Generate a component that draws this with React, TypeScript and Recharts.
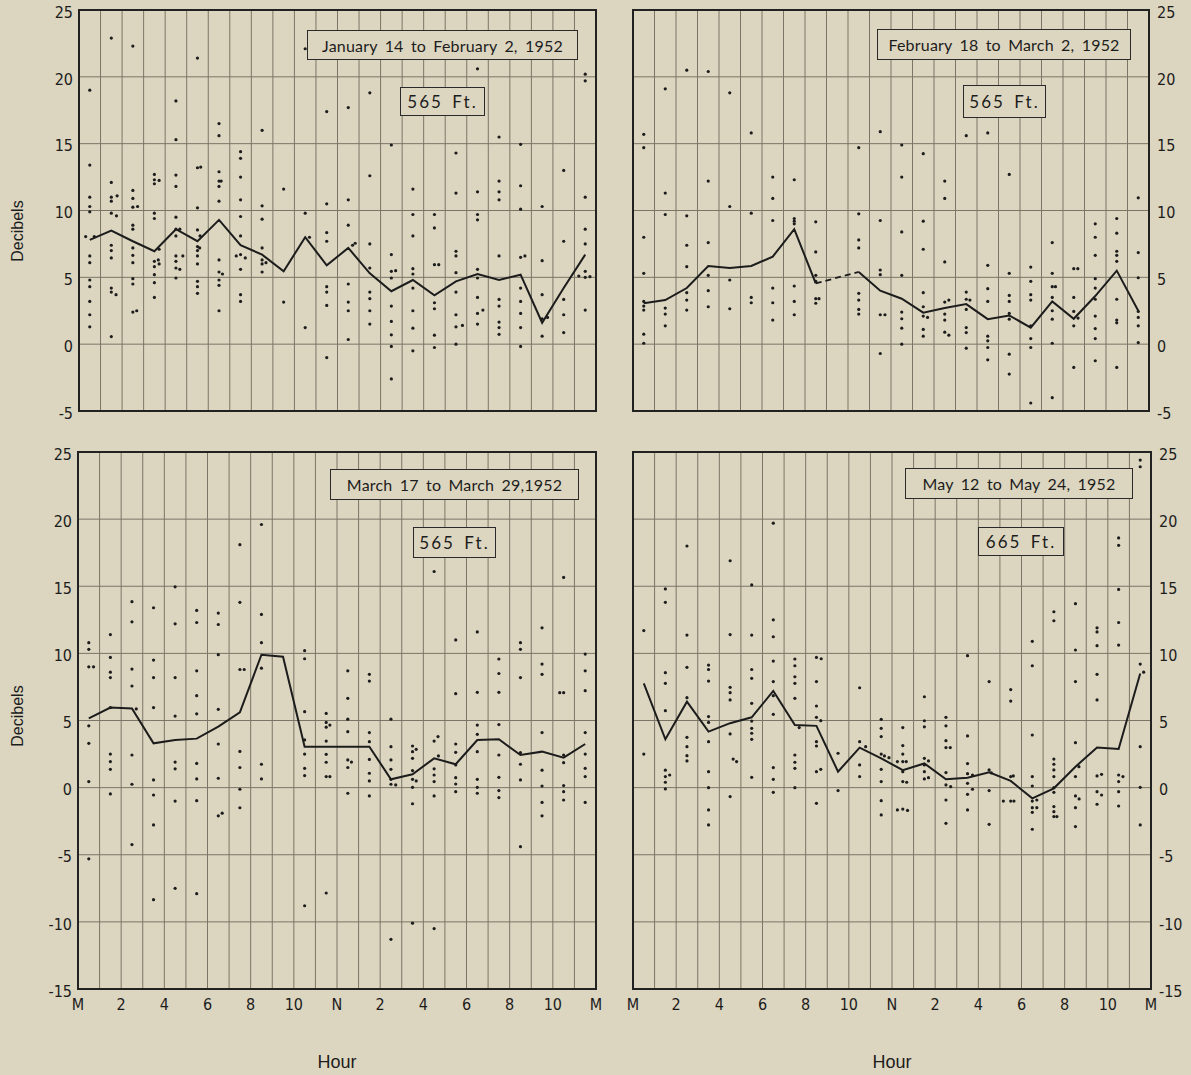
import React from 'react';
import { ComposedChart, Line, Scatter, XAxis, YAxis, CartesianGrid, ReferenceArea } from 'recharts';

// hour grid (one column per hour, readings plotted mid-column)
const hours = Array.from({ length: 25 }, (_, i) => i);
const hourLabels = ['M', '2', '4', '6', '8', '10', 'N', '2', '4', '6', '8', '10', 'M'];
const topTicks = [-5, 0, 5, 10, 15, 20, 25];
const bottomTicks = [-15, -10, -5, 0, 5, 10, 15, 20, 25];

// January 14 to February 2, 1952 — 565 ft
const janMedian = [7.8, 8.5, 7.7, 6.95, 8.6, 7.7, 9.3, 7.4, 6.7, 5.45, 8.0, 5.9, 7.2, 5.3, 3.96, 4.8, 3.66, 4.7, 5.25, 4.8, 5.2, 1.6, 4.2, 6.7];
const janDots = [
  [19.0, 13.4, 11.0, 10.3, 9.9, 6.6, 6.1, 4.8, 4.3, 3.2, 2.2, 1.3],
  [22.9, 12.1, 11.0, 10.7, 9.8, 7.4, 7.0, 6.45, 4.2, 3.9, 0.57],
  [22.3, 11.5, 10.9, 10.25, 8.9, 8.6, 7.2, 6.65, 6.1, 4.9, 4.5, 2.4],
  [12.7, 12.3, 12.0, 9.8, 9.4, 6.2, 5.8, 5.2, 4.6, 3.5],
  [18.2, 15.3, 12.65, 11.8, 9.5, 8.6, 8.1, 6.6, 6.2, 5.7, 4.95],
  [21.4, 13.2, 10.2, 8.55, 7.3, 7.0, 6.6, 6.0, 4.7, 4.3, 3.8],
  [16.5, 15.6, 12.9, 12.2, 11.8, 10.7, 6.3, 5.4, 4.8, 4.4, 2.5],
  [14.4, 13.9, 12.5, 10.8, 9.55, 8.1, 6.7, 5.6, 3.7, 3.2],
  [16.0, 10.35, 9.35, 7.2, 6.3, 6.0, 5.4],
  [11.6, 3.15],
  [22.1, 9.8, 1.24],
  [17.4, 10.5, 8.35, 7.7, 4.3, 3.9, 2.9, -1.0],
  [17.7, 10.8, 8.9, 4.5, 3.15, 2.5, 0.35],
  [18.8, 12.6, 7.5, 5.7, 3.9, 3.4, 2.5, 1.5],
  [14.9, 6.7, 5.45, 4.95, 2.85, 1.7, 0.7, -0.17, -2.6],
  [11.6, 9.7, 8.1, 5.65, 5.25, 4.2, 2.5, 1.2, -0.5],
  [9.7, 8.7, 5.95, 3.1, 2.65, 0.67, -0.25],
  [14.3, 11.3, 6.95, 6.6, 5.35, 3.9, 2.2, 1.3, 0.0],
  [20.6, 11.4, 9.7, 9.3, 5.6, 4.95, 3.5, 2.3, 1.5],
  [15.5, 12.2, 11.4, 10.8, 6.6, 3.35, 2.85, 1.65, 1.24, 0.74],
  [14.95, 11.85, 10.1, 6.5, 4.2, 3.2, 2.3, 1.24, -0.17],
  [10.3, 6.25, 3.7, 1.9, 0.6],
  [13.0, 7.7, 3.35, 2.2, 0.87],
  [20.2, 19.7, 11.0, 8.6, 7.5, 5.45, 5.0, 2.55],
];
const janSide = [
  [0.31, 8.05], [0.71, 8.05], [1.77, 11.1], [1.74, 9.6], [1.72, 3.7], [2.72, 10.3], [2.68, 2.5],
  [3.72, 12.25], [3.72, 7.1], [3.68, 6.3], [3.72, 6.0], [4.68, 8.6], [4.82, 6.6], [4.68, 5.6],
  [5.65, 13.25], [5.62, 8.1], [5.6, 7.2], [6.6, 12.2], [6.66, 5.25], [7.3, 6.6], [7.72, 6.45],
  [8.68, 6.1], [10.7, 8.0], [12.7, 7.4], [12.82, 7.55], [14.7, 5.5], [16.7, 5.95], [17.8, 1.4],
  [18.75, 2.55], [20.7, 6.6], [21.75, 2.0], [23.2, 5.1], [23.72, 5.05],
];

// February 18 to March 2, 1952 — 565 ft (hour 9 missing, bridged by a dashed line)
const febMedian = [3.06, 3.3, 4.2, 5.85, 5.7, 5.85, 6.55, 8.6, 4.55, null, 5.4, 4.0, 3.4, 2.36, 2.7, 3.0, 1.87, 2.15, 1.24, 3.2, 1.9, 3.6, 5.5, 2.5];
const febBridge = [[8.5, 4.55], [10.5, 5.4]];
const febDots = [
  [15.7, 14.7, 8.0, 5.3, 3.2, 2.85, 2.55, 0.75, 0.07],
  [19.1, 11.3, 9.7, 2.7, 2.25, 1.37],
  [20.5, 9.6, 7.4, 5.8, 3.85, 3.3, 2.55],
  [20.4, 12.2, 7.6, 5.15, 4.0, 2.8],
  [18.8, 10.3, 4.8, 2.65],
  [15.8, 9.8, 3.5, 3.1],
  [12.5, 10.9, 9.25, 4.2, 3.1, 1.8],
  [12.3, 9.4, 9.2, 9.0, 4.35, 3.2, 2.2],
  [9.15, 6.9, 5.15, 4.7, 3.4, 3.06],
  [],
  [14.7, 9.75, 7.8, 7.2, 3.8, 3.3, 2.6, 2.25],
  [15.9, 9.25, 5.55, 5.2, 2.2, -0.7],
  [14.9, 12.5, 8.4, 5.15, 2.4, 1.9, 1.2, 0.0],
  [14.25, 9.2, 7.1, 3.85, 2.8, 2.1, 1.1, 0.6],
  [12.2, 10.9, 6.15, 3.15, 2.25, 1.8, 0.9],
  [15.6, 3.9, 3.36, 2.6, 1.24, 0.87, -0.3],
  [15.8, 5.9, 4.15, 3.2, 0.6, 0.25, -0.25, -1.17],
  [12.7, 5.3, 3.65, 3.2, 2.3, 1.87, -0.75, -2.24],
  [5.77, 4.7, 3.7, 3.3, 1.37, 0.42, -0.25, -4.4],
  [7.6, 5.3, 4.3, 3.5, 2.5, 1.87, 0.07, -4.0],
  [5.65, 3.5, 2.45, 1.37, -1.74],
  [9.0, 8.0, 6.65, 4.9, 4.2, 3.36, 2.1, 1.17, 0.42, -1.24],
  [9.4, 8.3, 6.95, 6.65, 6.2, 3.36, 1.8, 1.6, -1.74],
  [10.95, 6.85, 4.97, 2.45, 2.0, 1.37, 0.12],
];
const febSide = [
  [8.65, 3.4], [11.72, 2.2], [13.7, 2.0], [14.69, 3.3], [14.69, 0.67], [15.67, 3.3],
  [19.65, 4.3], [20.69, 5.65], [20.7, 1.95],
];

// March 17 to March 29, 1952 — 565 ft
const marMedian = [5.16, 5.96, 5.9, 3.3, 3.55, 3.65, 4.54, 5.6, 9.9, 9.75, 3.05, 3.05, 3.05, 3.05, 0.62, 1.0, 2.18, 1.74, 3.55, 3.6, 2.43, 2.68, 2.23, 3.25];
const marDots = [
  [10.8, 10.3, 9.0, 4.6, 3.3, 0.45, -5.3],
  [11.4, 9.7, 8.6, 8.2, 5.96, 2.5, 1.94, 1.36, -0.47],
  [13.85, 12.35, 8.83, 7.57, 2.43, 0.25, -4.24],
  [13.4, 9.5, 8.2, 5.96, 0.57, -0.55, -2.78, -8.35],
  [14.96, 12.2, 8.2, 5.33, 1.9, 1.4, -1.0, -7.5],
  [13.2, 12.3, 8.7, 6.85, 5.5, 1.8, 0.65, -0.97, -7.9],
  [13.0, 12.15, 9.9, 5.83, 3.25, 0.7, -2.1],
  [18.1, 13.8, 8.8, 2.7, 1.5, -0.12, -1.5],
  [19.6, 12.9, 10.8, 8.9, 1.74, 0.65],
  [],
  [10.2, 9.6, 5.66, 3.55, 2.5, 1.44, 0.9, -8.8],
  [5.53, 4.86, 4.5, 3.47, 2.48, 1.89, 0.82, -7.85],
  [8.7, 6.65, 5.1, 4.17, 2.06, 1.5, -0.42],
  [8.44, 7.94, 4.1, 3.42, 2.1, 1.07, 0.5, -0.62],
  [5.1, 3.05, 2.06, 1.36, 0.62, 0.25, -11.3],
  [3.1, 2.68, 2.18, 1.27, 0.62, 0.02, -1.2, -10.1],
  [16.1, 3.47, 1.4, 0.94, 0.45, -0.62, -10.5],
  [11.0, 7.0, 3.25, 2.63, 1.69, 0.74, 0.27, -0.3],
  [11.6, 7.1, 4.66, 3.97, 2.68, 0.62, 0.02, -0.42],
  [9.58, 8.5, 7.1, 4.7, 2.43, 0.77, -0.22, -0.74],
  [10.8, 10.3, 8.2, 2.6, 1.74, 0.57, -4.4],
  [11.9, 9.2, 8.44, 4.1, 1.3, 0.12, -1.1, -2.1],
  [15.66, 7.07, 2.43, 1.86, 0.15, -0.3, -0.92],
  [9.95, 8.7, 7.22, 4.1, 2.5, 1.44, 0.82, -1.1],
];
const marSide = [
  [0.72, 9.0], [2.7, 5.86], [6.68, -1.9], [7.7, 8.8], [11.67, 4.66], [11.67, 0.82], [12.67, 1.9],
  [14.72, 0.2], [15.67, 2.85], [15.67, 0.5], [16.68, 3.8], [16.7, 2.36], [22.32, 7.07],
];

// May 12 to May 24, 1952 — 665 ft
const mayMedian = [7.77, 3.6, 6.4, 4.17, 4.8, 5.24, 7.2, 4.66, 4.6, 1.19, 2.98, 2.18, 1.3, 1.8, 0.62, 0.74, 1.14, 0.5, -0.8, -0.05, 1.56, 2.98, 2.88, 8.5];
const mayDots = [
  [11.7, 2.5],
  [14.8, 13.8, 8.56, 7.77, 5.73, 1.3, 0.82, 0.4, -0.1],
  [18.0, 11.36, 8.96, 6.7, 3.75, 3.05, 2.38, 1.99],
  [9.13, 8.8, 7.94, 5.29, 4.86, 3.42, 1.19, 0.0, -1.66, -2.78],
  [16.9, 11.4, 7.47, 7.07, 6.53, 4.0, -0.67],
  [15.1, 11.36, 8.8, 8.14, 6.28, 4.96, 4.42, 4.05, 3.6, 0.77],
  [19.7, 12.5, 11.24, 9.43, 7.9, 6.85, 5.46, 1.49, 0.62, -0.35],
  [9.58, 9.08, 8.26, 7.77, 6.65, 2.43, 1.89, 1.44, 0.0],
  [9.7, 7.9, 6.08, 5.24, 3.42, 3.1, 1.19, -1.17],
  [2.56, -0.22],
  [7.44, 3.42, 1.69, 0.82],
  [5.09, 4.42, 3.8, 2.5, 1.36, 0.45, -0.97, -2.03],
  [4.47, 3.13, 2.5, 1.94, 1.19, 0.45, -1.6],
  [6.77, 4.98, 4.53, 2.18, 1.69, 1.19, 0.65],
  [5.24, 4.6, 3.5, 2.98, 1.12, 0.2, -0.92, -2.66],
  [9.83, 3.85, 1.79, 1.04, 0.32, -0.5, -1.66],
  [7.9, 1.32, -0.22, -2.73],
  [7.3, 6.45, 0.82, -1.0],
  [10.9, 9.08, 3.92, 0.82, 0.12, -1.0, -1.49, -1.84, -3.1],
  [13.1, 12.43, 2.13, 1.74, 1.32, 0.82, 0.0, -0.35, -1.41, -1.79, -2.16],
  [13.7, 10.25, 7.9, 3.35, 0.82, -0.62, -1.49, -2.9],
  [11.9, 11.6, 10.57, 8.44, 6.53, 0.87, -0.3, -1.24],
  [18.6, 18.05, 14.76, 12.3, 10.62, 0.94, 0.45, -0.3, -1.37],
  [24.4, 23.9, 9.2, 3.05, 0.02, -2.78],
];
const maySide = [
  [1.7, 0.94], [4.64, 2.13], [4.8, 1.94], [7.7, 4.47], [8.72, 9.6], [8.7, 4.99], [8.7, 1.36],
  [10.78, 3.05], [11.65, 2.36], [11.86, 2.23], [12.66, 1.94], [12.25, 1.94], [12.68, 0.4],
  [12.25, -1.66], [12.72, -1.7], [13.69, 1.99], [13.69, 0.74], [14.7, 2.98], [14.72, 0.07],
  [15.73, 0.94], [15.73, -0.12], [16.6, 1.1], [17.62, 0.87], [17.16, -1.0], [17.65, -1.0],
  [18.71, -0.92], [18.71, -1.49], [19.64, -2.16], [20.66, 1.56], [20.67, -0.84], [21.71, 0.99],
  [21.71, -0.55], [22.7, 0.82], [23.66, 8.6],
];

const BG = '#dcd6c0';
const INK = '#1c1c1c';
const narrow = '"Liberation Sans Narrow", "DejaVu Sans Condensed", "Liberation Sans", sans-serif';
const plain = '"Liberation Sans", Arial, sans-serif';
const lettering = 'Lato, "Noto Sans", sans-serif';

const toDots = (cols: number[][], side: number[][]) => [
  ...cols.flatMap((vals, i) => vals.map((v) => ({ x: i + 0.5, y: v }))),
  ...side.map(([x, y]) => ({ x, y })),
];
const toLine = (vals: (number | null)[]) => vals.map((v, i) => ({ x: i + 0.5, y: v }));
const toPairs = (pairs: number[][]) => pairs.map(([x, y]) => ({ x, y }));

const Dot = (p: any) => <circle cx={p.cx} cy={p.cy} r={1.6} fill={INK} />;

function Panel(props: any) {
  const { left, top, width, height, margin, yWidth, xHeight, orientation, domain, ticks, showHours, median, dots, bridge } = props;
  return (
    <div style={{ position: 'absolute', left, top }}>
      <ComposedChart width={width} height={height} margin={margin}>
        <CartesianGrid stroke="#7a7566" strokeWidth={1} />
        <XAxis
          dataKey="x"
          type="number"
          domain={[0, 24]}
          ticks={hours}
          interval={0}
          allowDataOverflow
          height={xHeight}
          axisLine={false}
          tickLine={false}
          tickSize={0}
          tickMargin={10}
          tickFormatter={(h: number) => (showHours && h % 2 === 0 ? hourLabels[h / 2] : '')}
          tick={{ fill: INK, fontSize: 16, fontFamily: narrow }}
        />
        <YAxis
          type="number"
          domain={domain}
          ticks={ticks}
          interval={0}
          allowDataOverflow
          orientation={orientation}
          width={yWidth}
          axisLine={false}
          tickLine={false}
          tickSize={0}
          tickMargin={orientation === 'left' ? 6 : 8}
          tick={{ fill: INK, fontSize: 16, fontFamily: narrow, dy: 2 }}
        />
        <ReferenceArea x1={0} x2={24} y1={domain[0]} y2={domain[1]} fill="none" fillOpacity={0} stroke="#222" strokeWidth={2} />
        <Scatter data={dots} dataKey="y" shape={Dot} isAnimationActive={false} />
        <Line data={median} dataKey="y" stroke={INK} strokeWidth={2} dot={false} connectNulls={false} isAnimationActive={false} />
        {bridge && (
          <Line data={bridge} dataKey="y" stroke={INK} strokeWidth={1.8} strokeDasharray="6 4" dot={false} isAnimationActive={false} />
        )}
      </ComposedChart>
    </div>
  );
}

function Box({ left, top, width, height, text, size, spacing }: any) {
  return (
    <div
      style={{
        position: 'absolute', left, top, width, height, boxSizing: 'border-box',
        border: '1.5px solid #2a2a2a', background: BG, display: 'flex', alignItems: 'center',
        justifyContent: 'center', fontFamily: lettering, fontSize: size, color: INK,
        letterSpacing: spacing, wordSpacing: 3, whiteSpace: 'nowrap',
      }}
    >
      {text}
    </div>
  );
}

const sideLabel = (top: number) => (
  <div
    style={{
      position: 'absolute', left: 18, top, transform: 'translate(-50%, -50%) rotate(-90deg)',
      fontFamily: plain, fontSize: 16, color: INK, whiteSpace: 'nowrap',
    }}
  >
    Decibels
  </div>
);

const hourLabel = (left: number) => (
  <div
    style={{
      position: 'absolute', left, top: 1062, transform: 'translate(-50%, -50%)',
      fontFamily: plain, fontSize: 18, color: INK,
    }}
  >
    Hour
  </div>
);

export default function App() {
  return (
    <div style={{ position: 'relative', width: 1191, height: 1075, background: BG, overflow: 'hidden' }}>
      <style>{'body{margin:0;background:' + BG + ';}'}</style>
      <Panel
        left={0} top={0} width={600} height={430}
        margin={{ top: 10, right: 4, bottom: 0, left: 0 }} yWidth={79} xHeight={19}
        orientation="left" domain={[-5, 25]} ticks={topTicks} showHours={false}
        median={toLine(janMedian)} dots={toDots(janDots, janSide)}
      />
      <Panel
        left={600} top={0} width={591} height={430}
        margin={{ top: 10, right: 0, bottom: 0, left: 33 }} yWidth={42} xHeight={19}
        orientation="right" domain={[-5, 25]} ticks={topTicks} showHours={false}
        median={toLine(febMedian)} dots={toDots(febDots, febSide)} bridge={toPairs(febBridge)}
      />
      <Panel
        left={0} top={430} width={614} height={645}
        margin={{ top: 22, right: 18, bottom: 56, left: 0 }} yWidth={78} xHeight={30}
        orientation="left" domain={[-15, 25]} ticks={bottomTicks} showHours
        median={toLine(marMedian)} dots={toDots(marDots, marSide)}
      />
      <Panel
        left={600} top={430} width={591} height={645}
        margin={{ top: 22, right: 0, bottom: 56, left: 33 }} yWidth={40} xHeight={30}
        orientation="right" domain={[-15, 25]} ticks={bottomTicks} showHours
        median={toLine(mayMedian)} dots={toDots(mayDots, maySide)}
      />

      <Box left={307} top={30} width={271} height={30} size={16} spacing={0.2} text="January 14 to February 2, 1952" />
      <Box left={400} top={87} width={85} height={29} size={17} spacing={2} text="565 Ft." />
      <Box left={877} top={29} width={254} height={31} size={16} spacing={0.2} text="February 18 to March 2, 1952" />
      <Box left={963} top={85} width={83} height={33} size={17} spacing={2} text="565 Ft." />
      <Box left={330} top={469} width={249} height={31} size={16} spacing={0.2} text="March 17 to March 29,1952" />
      <Box left={413} top={527} width={83} height={31} size={17} spacing={2} text="565 Ft." />
      <Box left={905} top={468} width={228} height={31} size={16} spacing={0.2} text="May 12 to May 24, 1952" />
      <Box left={978} top={527} width={86} height={29} size={17} spacing={2} text="665 Ft." />

      {sideLabel(231)}
      {sideLabel(716)}
      {hourLabel(337)}
      {hourLabel(892)}
    </div>
  );
}
